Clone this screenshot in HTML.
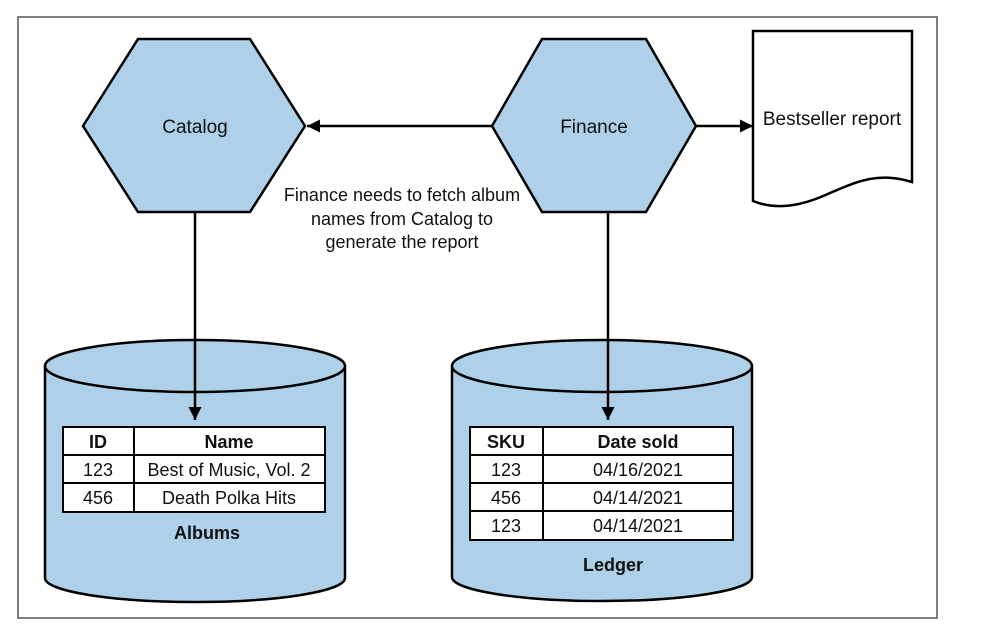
<!DOCTYPE html>
<html><head><meta charset="utf-8"><style>
html,body{margin:0;padding:0;background:#fff;}
svg{display:block;}
text{font-family:"Liberation Sans Narrow","Liberation Sans",sans-serif;fill:#111;}
</style></head><body>
<svg width="996" height="628" viewBox="0 0 996 628" xmlns="http://www.w3.org/2000/svg">
<defs><marker id="ah" viewBox="0 0 10 10" refX="10" refY="5" markerWidth="13" markerHeight="13" markerUnits="userSpaceOnUse" orient="auto"><path d="M0,0 L10,5 L0,10 z" fill="#000"/></marker></defs>
<rect x="18" y="17" width="919" height="601" fill="#fff" stroke="#555" stroke-width="1.5"/>
<polygon points="83,126 138,39 250,39 305,126 250,212 138,212" fill="#aed0e8" stroke="#000" stroke-width="2.5"/>
<text x="195" y="133" font-size="19" text-anchor="middle">Catalog</text>
<polygon points="492,126 542,39 646,39 696,126 646,212 542,212" fill="#aed0e8" stroke="#000" stroke-width="2.5"/>
<text x="594" y="133" font-size="19" text-anchor="middle">Finance</text>
<line x1="492" y1="126" x2="307" y2="126" stroke="#000" stroke-width="2.5" marker-end="url(#ah)"/>
<line x1="696" y1="126" x2="753" y2="126" stroke="#000" stroke-width="2.5" marker-end="url(#ah)"/>
<text font-size="18" text-anchor="middle"><tspan x="402" y="201">Finance needs to fetch album</tspan><tspan x="402" y="225">names from Catalog to</tspan><tspan x="402" y="248">generate the report</tspan></text>
<path d="M753,31 L912,31 L912,182 C880,172 860,180 830,193 C800,207 775,210 753,201 Z" fill="#fff" stroke="#000" stroke-width="2.5"/>
<text x="832" y="125" font-size="19" text-anchor="middle">Bestseller report</text>
<path d="M45,366 L45,578 A150,24 0 0 0 345,578 L345,366" fill="#aed0e8" stroke="#000" stroke-width="2.5"/>
<ellipse cx="195" cy="366" rx="150" ry="26" fill="#aed0e8" stroke="#000" stroke-width="2.5"/>
<line x1="195" y1="212" x2="195" y2="420" stroke="#000" stroke-width="2.5" marker-end="url(#ah)"/>
<g stroke="#000" stroke-width="2">
<rect x="63" y="427" width="262" height="85" fill="#fff"/>
<line x1="63" y1="455" x2="325" y2="455"/><line x1="63" y1="483" x2="325" y2="483"/>
<line x1="134" y1="427" x2="134" y2="512"/>
</g>
<text x="98" y="448" font-size="18" font-weight="bold" text-anchor="middle">ID</text>
<text x="229" y="448" font-size="18" font-weight="bold" text-anchor="middle">Name</text>
<text x="98" y="476" font-size="18" text-anchor="middle">123</text>
<text x="229" y="476" font-size="18" text-anchor="middle">Best of Music, Vol. 2</text>
<text x="98" y="504" font-size="18" text-anchor="middle">456</text>
<text x="229" y="504" font-size="18" text-anchor="middle">Death Polka Hits</text>
<text x="207" y="539" font-size="18" font-weight="bold" text-anchor="middle">Albums</text>
<path d="M452,366 L452,577 A150,24 0 0 0 752,577 L752,366" fill="#aed0e8" stroke="#000" stroke-width="2.5"/>
<ellipse cx="602" cy="366" rx="150" ry="26" fill="#aed0e8" stroke="#000" stroke-width="2.5"/>
<line x1="608" y1="212" x2="608" y2="420" stroke="#000" stroke-width="2.5" marker-end="url(#ah)"/>
<g stroke="#000" stroke-width="2">
<rect x="470" y="427" width="263" height="113" fill="#fff"/>
<line x1="470" y1="455" x2="733" y2="455"/><line x1="470" y1="483" x2="733" y2="483"/><line x1="470" y1="511" x2="733" y2="511"/>
<line x1="543" y1="427" x2="543" y2="540"/>
</g>
<text x="506" y="448" font-size="18" font-weight="bold" text-anchor="middle">SKU</text>
<text x="638" y="448" font-size="18" font-weight="bold" text-anchor="middle">Date sold</text>
<text x="506" y="476" font-size="18" text-anchor="middle">123</text>
<text x="638" y="476" font-size="18" text-anchor="middle">04/16/2021</text>
<text x="506" y="504" font-size="18" text-anchor="middle">456</text>
<text x="638" y="504" font-size="18" text-anchor="middle">04/14/2021</text>
<text x="506" y="532" font-size="18" text-anchor="middle">123</text>
<text x="638" y="532" font-size="18" text-anchor="middle">04/14/2021</text>
<text x="613" y="571" font-size="18" font-weight="bold" text-anchor="middle">Ledger</text>
</svg>
</body></html>
